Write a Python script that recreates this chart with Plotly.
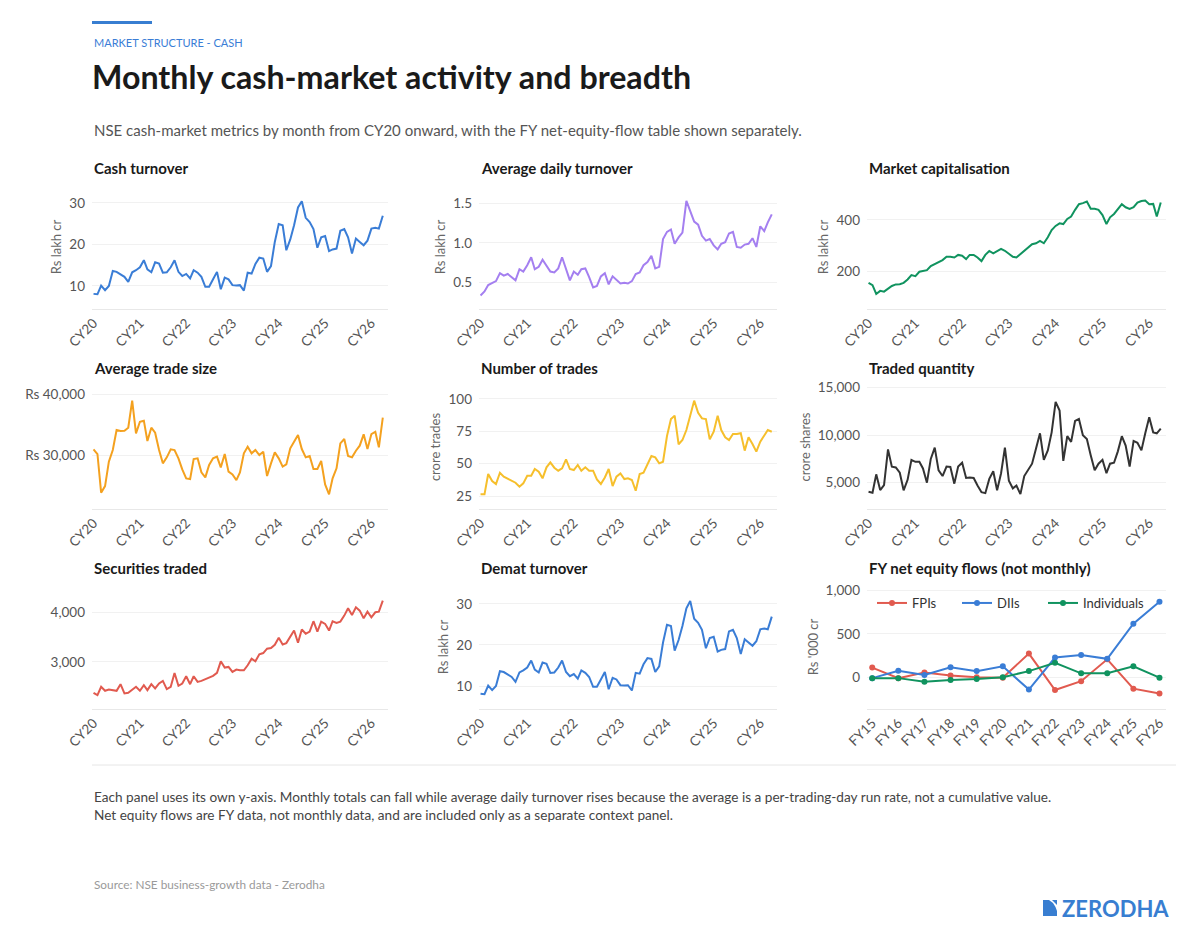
import pandas as pd
import plotly.graph_objects as go

# monthly series, Jan 2020 onward
cash_turnover = [
    8.1, 8.0, 10.1, 9.0, 10.0, 13.6, 13.4, 12.9, 12.2, 11.0, 13.3, 13.8,
    14.5, 16.2, 14.0, 13.3, 15.7, 15.4, 13.2, 13.3, 14.5, 16.2, 13.4, 12.4,
    12.9, 11.8, 13.8, 13.2, 12.2, 9.8, 9.8, 11.6, 13.4, 9.2, 12.0, 11.6,
    10.2, 10.1, 10.2, 8.9, 13.2, 13.0, 15.3, 16.8, 16.6, 13.4, 14.8, 20.6,
    24.9, 24.6, 18.6, 21.2, 24.6, 28.9, 30.4, 26.4, 25.4, 23.7, 19.2, 21.7,
    22.0, 18.4, 18.8, 19.0, 23.3, 23.7, 21.7, 17.8, 21.4, 20.6, 19.8, 20.9,
    23.8, 24.0, 23.8, 26.9,
]
avg_daily_turnover = [
    0.34, 0.39, 0.47, 0.50, 0.52, 0.62, 0.59, 0.61, 0.57, 0.53, 0.67, 0.64,
    0.72, 0.82, 0.67, 0.70, 0.79, 0.71, 0.64, 0.63, 0.68, 0.82, 0.66, 0.53,
    0.64, 0.60, 0.67, 0.68, 0.57, 0.44, 0.46, 0.58, 0.62, 0.48, 0.58, 0.53,
    0.49, 0.50, 0.49, 0.52, 0.61, 0.63, 0.72, 0.76, 0.84, 0.68, 0.70, 1.05,
    1.14, 1.17, 0.99, 1.07, 1.13, 1.53, 1.39, 1.27, 1.23, 1.09, 1.03, 1.05,
    0.97, 0.92, 0.99, 1.01, 1.12, 1.14, 0.95, 0.94, 0.98, 0.99, 1.06, 0.95,
    1.21, 1.15, 1.26, 1.36,
]
market_cap = [
    157, 148, 114, 126, 123, 135, 145, 151, 152, 157, 170, 187,
    183, 200, 204, 206, 222, 230, 235, 245, 258, 258, 255, 265,
    262, 249, 265, 265, 255, 241, 265, 280, 271, 280, 288, 281,
    271, 258, 255, 268, 281, 294, 306, 310, 319, 310, 333, 361,
    377, 387, 384, 404, 413, 439, 461, 465, 471, 443, 443, 439,
    419, 384, 410, 423, 441, 461, 449, 443, 449, 467, 473, 475,
    461, 462, 413, 467,
]
avg_trade_size = [
    31030, 30270, 24000, 25080, 29030, 30920, 34160, 34000, 34050, 34540, 38920, 33620,
    35510, 35680, 32380, 34540, 33730, 30920, 28760, 29730, 31030, 30920, 29570, 27780,
    26320, 26220, 29460, 29570, 27300, 26490, 28490, 29570, 29840, 28110, 30270, 27410,
    26970, 26050, 27300, 30380, 31460, 30380, 30920, 30110, 30650, 26700, 28760, 30540,
    29570, 28220, 28590, 31190, 32270, 33350, 31080, 29730, 29950, 27840, 27840, 29140,
    25350, 23730, 26320, 27950, 32000, 32700, 29950, 29730, 30810, 31620, 33460, 31080,
    33510, 33890, 31350, 36160,
]
num_trades = [
    26.3, 26.3, 42.0, 36.6, 34.3, 43.0, 40.0, 38.4, 37.4, 35.3, 32.2, 34.8,
    40.7, 40.7, 45.9, 43.8, 38.7, 47.2, 51.0, 46.9, 44.6, 46.4, 53.4, 45.9,
    45.1, 49.0, 44.6, 47.2, 44.6, 44.6, 37.9, 34.3, 39.4, 45.9, 32.7, 40.0,
    42.5, 38.1, 38.7, 37.4, 29.1, 42.0, 43.0, 49.0, 55.9, 54.9, 50.3, 51.5,
    71.4, 84.5, 87.1, 65.0, 68.3, 76.0, 87.6, 98.7, 89.4, 85.0, 84.5, 68.8,
    74.7, 87.1, 76.0, 70.4, 68.3, 72.9, 72.9, 73.5, 60.1, 70.4, 65.2, 59.3,
    67.0, 71.4, 76.0, 74.7,
]
traded_qty = [
    4050, 3950, 5880, 4230, 4750, 8510, 6680, 6610, 6050, 4200, 5300, 7400,
    7200, 7200, 6500, 5000, 7500, 8700, 6300, 5700, 6700, 6650, 4900, 6700,
    7100, 5500, 5550, 5500, 4700, 4000, 3900, 5400, 6200, 4200, 6000, 8700,
    5200, 4400, 4700, 3800, 5700, 6400, 7000, 8600, 10200, 7400, 8400, 10300,
    13500, 12600, 7300, 9900, 9300, 11500, 11700, 10000, 9600, 7900, 6300, 7000,
    7400, 6000, 7000, 7100, 8300, 9900, 8900, 6700, 9400, 9200, 8400, 10200,
    11900, 10300, 10200, 10700,
]
securities_traded = [
    2380, 2333, 2500, 2420, 2447, 2433, 2420, 2553, 2367, 2380, 2447, 2500,
    2420, 2533, 2433, 2553, 2467, 2567, 2620, 2453, 2500, 2780, 2520, 2567,
    2713, 2553, 2713, 2600, 2620, 2653, 2687, 2720, 2780, 3013, 2887, 2900,
    2800, 2847, 2833, 2833, 2933, 3067, 3013, 3153, 3180, 3267, 3280, 3347,
    3487, 3353, 3380, 3500, 3633, 3387, 3653, 3567, 3613, 3820, 3613, 3813,
    3767, 3633, 3820, 3787, 3813, 3933, 4080, 3947, 4100, 4033, 3880, 4013,
    3900, 4000, 4013, 4233,
]
demat_turnover = [
    8.1, 8.0, 10.1, 9.0, 10.0, 13.6, 13.4, 12.9, 12.2, 11.0, 13.3, 13.8,
    14.5, 16.2, 14.0, 13.3, 15.7, 15.4, 13.2, 13.3, 14.5, 16.2, 13.4, 12.4,
    12.9, 11.8, 13.8, 13.2, 12.2, 9.8, 9.8, 11.6, 13.4, 9.2, 12.0, 11.6,
    10.2, 10.1, 10.2, 8.9, 13.2, 13.0, 15.3, 16.8, 16.6, 13.4, 14.8, 20.6,
    24.9, 24.6, 18.6, 21.2, 24.6, 28.9, 30.7, 26.4, 25.4, 23.7, 19.2, 21.7,
    22.0, 18.4, 18.8, 19.0, 23.3, 23.7, 21.7, 17.8, 21.4, 20.6, 19.8, 20.9,
    23.8, 24.0, 23.8, 26.9,
]

# FY net equity flows, Rs '000 cr
fy_labels = ["FY15", "FY16", "FY17", "FY18", "FY19", "FY20",
             "FY21", "FY22", "FY23", "FY24", "FY25", "FY26"]
fpi_flows = [115, -5, 60, 25, 5, 0, 275, -140, -40, 210, -125, -180]
dii_flows = [-5, 80, 30, 120, 75, 130, -135, 230, 260, 215, 615, 865]
individual_flows = [-5, -5, -45, -25, -15, 5, 75, 170, 50, 50, 130, 0]

BLUE = "#3a7dd6"
PURPLE = "#a47ff0"
GREEN = "#10935f"
ORANGE = "#f4a11f"
YELLOW = "#f6bf2c"
DARK = "#333333"
RED = "#e15a4f"
FONT = "Lato"

W, H = 1200, 940
OFF = 8  # the page body adds an 8px margin


def px(x):
    return (x - OFF) / W


def py(y):
    return 1 - (y - OFF) / H


cols = [(92, 388), (479, 777), (867, 1166)]
rows = [(185, 309), (385, 509), (585, 709)]

panels = [
    dict(title="Cash turnover", y=cash_turnover, color=BLUE, ytitle="Rs lakh cr",
         yrange=[4.46, 34.3], ticks=[10, 20, 30], labels=["10", "20", "30"]),
    dict(title="Average daily turnover", y=avg_daily_turnover, color=PURPLE, ytitle="Rs lakh cr",
         yrange=[0.169, 1.73], ticks=[0.5, 1.0, 1.5], labels=["0.5", "1.0", "1.5"]),
    dict(title="Market capitalisation", y=market_cap, color=GREEN, ytitle="Rs lakh cr",
         yrange=[56, 535], ticks=[200, 400], labels=["200", "400"]),
    dict(title="Average trade size", y=avg_trade_size, color=ORANGE, ytitle=None,
         yrange=[21360, 41460], ticks=[30000, 40000], labels=["Rs 30,000", "Rs 40,000"]),
    dict(title="Number of trades", y=num_trades, color=YELLOW, ytitle="crore trades",
         yrange=[15, 110.8], ticks=[25, 50, 75, 100], labels=["25", "50", "75", "100"]),
    dict(title="Traded quantity", y=traded_qty, color=DARK, ytitle="crore shares",
         yrange=[2232, 15284], ticks=[5000, 10000, 15000], labels=["5,000", "10,000", "15,000"]),
    dict(title="Securities traded", y=securities_traded, color=RED, ytitle=None,
         yrange=[2054, 4549], ticks=[3000, 4000], labels=["3,000", "4,000"]),
    dict(title="Demat turnover", y=demat_turnover, color=BLUE, ytitle="Rs lakh cr",
         yrange=[4.4, 34.6], ticks=[10, 20, 30], labels=["10", "20", "30"]),
    dict(title="FY net equity flows (not monthly)", y=None, color=None, ytitle="Rs '000 cr",
         yrange=[-357, 1057], ticks=[0, 500, 1000], labels=["0", "500", "1,000"]),
]

# one small legend per flow series so the spacing can follow the reference
flow_series = [("FPIs", fpi_flows, RED, "legend", 872),
               ("DIIs", dii_flows, BLUE, "legend2", 957),
               ("Individuals", individual_flows, GREEN, "legend3", 1043)]

fig = go.Figure()
annotations = []
layout_axes = {}
tick_font = dict(family=FONT, size=13.5, color="#555555")

for i, p in enumerate(panels):
    r, c = divmod(i, 3)
    n = i + 1
    xa = "x" if n == 1 else f"x{n}"
    ya = "y" if n == 1 else f"y{n}"
    xkey = "xaxis" if n == 1 else f"xaxis{n}"
    ykey = "yaxis" if n == 1 else f"yaxis{n}"
    x0, x1 = cols[c]
    y0, y1 = rows[r]

    xax = dict(
        domain=[px(x0), px(x1)], anchor=ya, tickangle=-45, automargin=False,
        showgrid=False, showline=True, linecolor="#e8e8e8", linewidth=1,
        zeroline=False, tickfont=tick_font, ticks="",
    )
    if p["y"] is not None:
        months = pd.date_range("2020-01-01", periods=len(p["y"]), freq="MS")
        fig.add_trace(go.Scatter(
            x=months, y=p["y"], mode="lines", xaxis=xa, yaxis=ya,
            line=dict(color=p["color"], width=2), showlegend=False,
        ))
        xax.update(type="date", range=["2019-12-20", "2026-05-12"],
                   tick0="2020-01-01", dtick="M12", tickformat="CY%y")
    else:
        for name, vals, col, leg, _ in flow_series:
            fig.add_trace(go.Scatter(
                x=fy_labels, y=vals, mode="lines+markers", name=name, legend=leg,
                xaxis=xa, yaxis=ya, line=dict(color=col, width=2),
                marker=dict(color=col, size=6),
            ))
        xax.update(type="category", range=[-0.2, 11.25])
    layout_axes[xkey] = xax

    yax = dict(
        domain=[py(y1), py(y0)], anchor=xa, range=p["yrange"], automargin=False,
        tickmode="array", tickvals=p["ticks"], ticktext=p["labels"],
        showgrid=True, gridcolor="#f1f1f1", gridwidth=1,
        zeroline=False, showline=False, tickfont=tick_font, ticks="",
        ticklabelstandoff=6,
    )
    if p["ytitle"]:
        yax["title"] = dict(text=p["ytitle"], font=dict(family=FONT, size=13, color="#666666"),
                            standoff=4)
    layout_axes[ykey] = yax

    annotations.append(dict(
        text=f"<b>{p['title']}</b>", x=px(x0), y=py(168 + 200 * r), xref="paper", yref="paper",
        xanchor="left", yanchor="middle", showarrow=False,
        font=dict(family=FONT, size=15, color="#1a1a1a"),
    ))

# header, notes and source
annotations += [
    dict(text="MARKET STRUCTURE - CASH", x=px(92), y=py(42), xref="paper", yref="paper",
         xanchor="left", yanchor="middle", showarrow=False,
         font=dict(family=FONT, size=11, color="#3a7dd6")),
    dict(text="<b>Monthly cash-market activity and breadth</b>", x=px(90), y=py(76),
         xref="paper", yref="paper", xanchor="left", yanchor="middle", showarrow=False,
         font=dict(family=FONT, size=32.2, color="#1a1a1a")),
    dict(text="NSE cash-market metrics by month from CY20 onward, with the FY net-equity-flow table shown separately.",
         x=px(92), y=py(130), xref="paper", yref="paper", xanchor="left", yanchor="middle",
         showarrow=False, font=dict(family=FONT, size=15, color="#555555")),
    dict(text="Each panel uses its own y-axis. Monthly totals can fall while average daily turnover rises because the average is a per-trading-day run rate, not a cumulative value.",
         x=px(92), y=py(797), xref="paper", yref="paper", xanchor="left", yanchor="middle",
         showarrow=False, font=dict(family=FONT, size=13.6, color="#444444")),
    dict(text="Net equity flows are FY data, not monthly data, and are included only as a separate context panel.",
         x=px(92), y=py(815), xref="paper", yref="paper", xanchor="left", yanchor="middle",
         showarrow=False, font=dict(family=FONT, size=13.6, color="#444444")),
    dict(text="Source: NSE business-growth data - Zerodha", x=px(92), y=py(884),
         xref="paper", yref="paper", xanchor="left", yanchor="middle", showarrow=False,
         font=dict(family=FONT, size=11.8, color="#9a9a9a")),
    dict(text="<b>ZERODHA</b>", x=px(1171), y=py(908), xref="paper", yref="paper",
         xanchor="right", yanchor="middle", showarrow=False,
         font=dict(family=FONT, size=22, color="#387ed1")),
]


def path(points):
    return "M " + " L ".join(f"{px(a)},{py(b)}" for a, b in points) + " Z"


shapes = [
    dict(type="rect", xref="paper", yref="paper", x0=px(92), x1=px(152), y0=py(24), y1=py(21),
         fillcolor="#387ed1", line=dict(width=0)),
    dict(type="line", xref="paper", yref="paper", x0=px(92), x1=px(1176), y0=py(765), y1=py(765),
         line=dict(color="#e6e6e6", width=1)),
    # logo mark
    dict(type="path", xref="paper", yref="paper",
         path=path([(1043, 900), (1049, 900), (1053, 903), (1055.5, 907), (1057, 911),
                    (1057, 916), (1043, 916)]),
         fillcolor="#387ed1", line=dict(width=0)),
    dict(type="path", xref="paper", yref="paper",
         path=path([(1052, 900), (1057, 900), (1057, 905)]),
         fillcolor="#387ed1", line=dict(width=0)),
]

legends = {}
for _, _, _, leg, lx in flow_series:
    legends[leg] = dict(orientation="h", x=px(lx), y=py(603), xanchor="left", yanchor="middle",
                        font=dict(family=FONT, size=13, color="#333333"),
                        bgcolor="rgba(0,0,0,0)")

fig.update_layout(
    width=W, height=H, margin=dict(l=0, r=0, t=0, b=0, autoexpand=False),
    paper_bgcolor="white", plot_bgcolor="white",
    font=dict(family=FONT, color="#444444"),
    annotations=annotations, shapes=shapes,
    **legends,
    **layout_axes,
)

fig.write_html("out.html")
